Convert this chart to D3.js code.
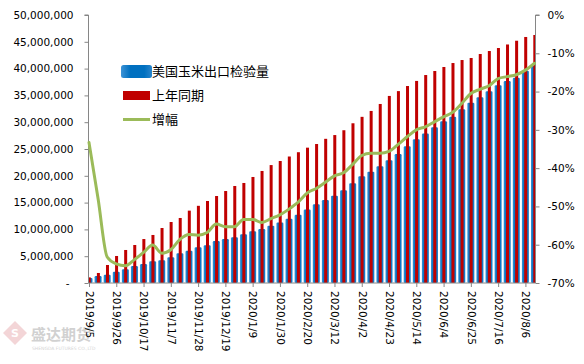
<!DOCTYPE html>
<html><head><meta charset="utf-8">
<script src="https://cdn.jsdelivr.net/npm/d3@7/dist/d3.min.js"></script>
<style>body{margin:0;background:#fff}svg{display:block}</style>
</head><body>
<svg id="chart" width="584" height="364"></svg>
<script>
const categories = ["2019/9/5","2019/9/12","2019/9/19","2019/9/26","2019/10/3","2019/10/10","2019/10/17","2019/10/24","2019/10/31","2019/11/7","2019/11/14","2019/11/21","2019/11/28","2019/12/5","2019/12/12","2019/12/19","2019/12/26","2020/1/2","2020/1/9","2020/1/16","2020/1/23","2020/1/30","2020/2/6","2020/2/13","2020/2/20","2020/2/27","2020/3/5","2020/3/12","2020/3/19","2020/3/26","2020/4/2","2020/4/9","2020/4/16","2020/4/23","2020/4/30","2020/5/7","2020/5/14","2020/5/21","2020/5/28","2020/6/4","2020/6/11","2020/6/18","2020/6/25","2020/7/2","2020/7/9","2020/7/16","2020/7/23","2020/7/30","2020/8/6","2020/8/13"];
const inspections = [950000,1300000,1550000,2100000,2550000,3170000,3540000,4040000,4230000,4790000,5530000,6030000,6650000,7030000,7840000,8200000,8520000,9080000,9640000,10070000,10700000,11300000,12000000,12740000,13700000,14680000,15490000,16300000,17300000,18600000,19900000,20770000,21770000,22900000,24070000,25500000,26800000,27900000,29050000,30170000,31030000,32400000,33640000,34640000,35760000,36880000,37690000,38300000,39600000,40500000];
const lastYear = [1050000,1870000,3360000,5040000,6160000,7090000,8200000,8960000,10260000,11380000,12130000,13500000,14400000,15300000,16230000,17160000,18100000,18660000,19780000,20900000,22000000,22760000,23600000,24400000,25250000,25930000,26900000,27600000,28500000,29800000,31000000,32100000,33400000,34900000,35800000,36750000,37700000,38800000,39550000,40300000,41040000,41600000,41980000,42720000,43280000,43840000,44500000,45200000,45900000,46270000];
const growth = [-33.3,-48,-63.2,-65,-65.5,-63.9,-62,-60.1,-62.2,-61.3,-58.6,-57.3,-57.5,-56.8,-54.6,-55.3,-55.3,-53.4,-53.4,-54.2,-53.2,-52.2,-50.7,-48.9,-46.5,-45.3,-43.7,-42,-41.2,-39,-36.7,-36.1,-36.1,-35.6,-33.8,-31.8,-30,-29.2,-27.9,-26.6,-25.4,-23.1,-20.5,-19.4,-18.5,-16.6,-16.1,-15.6,-14.4,-12.6];
const leftTicks = [0,5000000,10000000,15000000,20000000,25000000,30000000,35000000,40000000,45000000,50000000];
const rightTicks = [0,-10,-20,-30,-40,-50,-60,-70];
const seriesNames = ["美国玉米出口检验量","上年同期","增幅"];

const svg = d3.select("#chart");
const L = 88.5, R = 535.5, T = 15, B = 283;
const x = d3.scalePoint().domain(categories).range([89, 534.5]);
const yL = d3.scaleLinear().domain([0, 50000000]).range([B, T]);
const yR = d3.scaleLinear().domain([-70, 0]).range([B, T]);
const axisColor = "#868686";
const numFont = "DejaVu Sans";

const defs = svg.append("defs");
defs.append("clipPath").attr("id","plot").append("rect")
  .attr("x", L).attr("y", 0).attr("width", R - L).attr("height", B + 1);
const g1 = defs.append("linearGradient").attr("id","blueGrad").attr("x1","0").attr("x2","1").attr("y1","0").attr("y2","0");
g1.append("stop").attr("offset","0").attr("stop-color","#3d93d6");
g1.append("stop").attr("offset","0.3").attr("stop-color","#0070c0");
g1.append("stop").attr("offset","0.75").attr("stop-color","#0070c0");
g1.append("stop").attr("offset","1").attr("stop-color","#2a85cc");

// watermark
const wm = svg.append("g").attr("opacity", 0.45);
wm.append("path").attr("d","M15,321 L27,333 L15,345 L3,333 Z").attr("fill","#e6a4a8");
wm.append("text").attr("x",15).attr("y",337).attr("text-anchor","middle").attr("fill","#fff")
  .attr("font-family","DejaVu Sans").attr("font-weight","bold").attr("font-size",11).text("S");
wm.append("text").attr("x",31).attr("y",340).attr("fill","#9a9a9a")
  .attr("font-family","Noto Sans CJK SC").attr("font-weight","bold").attr("font-size",15).text("盛达期货");
wm.append("text").attr("x",32).attr("y",350).attr("fill","#a0a0a0")
  .attr("font-family","DejaVu Sans").attr("font-size",4.5).text("SHENGDA FUTURES CO.,LTD");

// bars
const bars = svg.append("g").attr("clip-path","url(#plot)");
bars.selectAll("rect.blue").data(categories).join("rect").attr("class","blue")
  .attr("x", d => x(d) - 3.5)
  .attr("width", 7)
  .attr("y", (d,i) => yL(inspections[i]))
  .attr("height", (d,i) => B - yL(inspections[i]))
  .attr("rx", 1.2)
  .attr("fill", "url(#blueGrad)");
bars.selectAll("rect.red").data(categories).join("rect").attr("class","red")
  .attr("x", d => x(d) - 1.2)
  .attr("width", 3)
  .attr("y", (d,i) => yL(lastYear[i]))
  .attr("height", (d,i) => B - yL(lastYear[i]))
  .attr("fill", "#c00000");

// axes
const gl = svg.append("g").attr("transform", `translate(${L},0)`)
  .call(d3.axisLeft(yL).tickValues(leftTicks).tickSize(4).tickPadding(11)
    .tickFormat(d => d === 0 ? "-" : d3.format(",")(d)));
const gr = svg.append("g").attr("transform", `translate(${R},0)`)
  .call(d3.axisRight(yR).tickValues(rightTicks).tickSize(4).tickPadding(8)
    .tickFormat(d => d + "%"));
const labelCats = categories.filter((d,i) => i % 3 === 0);
const gb = svg.append("g").attr("transform", `translate(0,${B})`)
  .call(d3.axisBottom(x).tickValues(labelCats).tickSize(4).tickSizeOuter(0));
[gl, gr, gb].forEach(g => {
  g.select(".domain").attr("stroke", axisColor);
  g.selectAll(".tick line").attr("stroke", axisColor);
  g.selectAll("text").attr("fill", "#000").attr("font-family", numFont).attr("font-size", 10.5);
});
gl.select(".domain").attr("d", `M-4,${T}H0V${B}`);
gr.select(".domain").attr("d", `M4,${T}H0V${B}`);
gb.select(".domain").attr("d", `M${L},0H${R}`);
gl.selectAll(".tick").filter(d => d === 0).select("text").attr("dx", -4);
gb.selectAll(".tick text")
  .attr("transform", "rotate(90)")
  .attr("text-anchor", "start")
  .attr("dy", "0.35em")
  .attr("x", 8).attr("y", 0);

// line
const line = d3.line()
  .x((d,i) => x(categories[i]))
  .y(d => yR(d))
  .curve(d3.curveMonotoneX);
svg.append("path").datum(growth).attr("d", line)
  .attr("fill","none").attr("stroke","#9bbb59").attr("stroke-width",3)
  .attr("stroke-linejoin","round").attr("stroke-linecap","round");

// legend
const lg = svg.append("g");
lg.append("rect").attr("x",121).attr("y",65).attr("width",31).attr("height",13).attr("rx",2.5).attr("fill","url(#blueGrad)");
lg.append("rect").attr("x",123).attr("y",91).attr("width",27).attr("height",9).attr("fill","#c00000");
lg.append("line").attr("x1",123).attr("x2",150).attr("y1",119.5).attr("y2",119.5).attr("stroke","#9bbb59").attr("stroke-width",3);
const ly = [71.7, 95, 119];
lg.selectAll("text").data(seriesNames).join("text")
  .attr("x", 152).attr("y", (d,i) => ly[i]).attr("dy","0.36em")
  .attr("font-family","Noto Sans CJK SC").attr("font-size",13).attr("fill","#000")
  .text(d => d);
</script>
</body></html>
